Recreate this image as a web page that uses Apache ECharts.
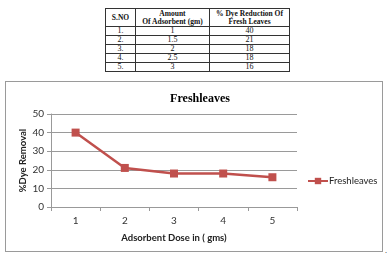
<!DOCTYPE html>
<html>
<head>
<meta charset="utf-8">
<script src="https://cdn.jsdelivr.net/npm/echarts@6/dist/echarts.min.js"></script>
<style>
  body { margin: 0; background: #fff; width: 391px; height: 261px; position: relative; overflow: hidden; }
  #tbl { position: absolute; left: 105px; top: 8px; border-collapse: collapse; font-family: "Liberation Serif", "DejaVu Serif", serif; font-size: 8px; color: #111; }
  #tbl td, #tbl th { border: 1px solid #333; padding: 0; text-align: center; line-height: 8px; height: 8px; }
  #tbl th { font-weight: bold; height: 17px; font-size: 7.5px; }
  #box { position: absolute; left: 5px; top: 81px; width: 376px; height: 169px; border: 1px solid #9a9a9a; }
  #chart { width: 376px; height: 169px; }
  #dot { position: absolute; left: 385px; top: 246px; font: 8px "Liberation Serif", serif; }
</style>
</head>
<body>
<table id="tbl"></table>
<div id="box"><div id="chart"></div></div>
<div id="dot">.</div>
<script>
// table columns
const serialNo = ['1.', '2.', '3.', '4.', '5.'];
const adsorbentGm = ['1', '1.5', '2', '2.5', '3'];
const dyeReduction = [40, 21, 18, 18, 16];
const headers = ['S.NO', 'Amount<br>Of Adsorbent (gm)', '% Dye Reduction Of<br>Fresh Leaves'];
const colWidths = [29, 73, 79];

// chart data
const doseLabels = ['1', '2', '3', '4', '5'];
const removal = [40, 21, 18, 18, 16];

let html = '<tr>' + headers.map((h, i) => '<th style="width:' + colWidths[i] + 'px">' + h + '</th>').join('') + '</tr>';
serialNo.forEach((s, i) => {
  html += '<tr><td>' + s + '</td><td>' + adsorbentGm[i] + '</td><td>' + dyeReduction[i] + '</td></tr>';
});
document.getElementById('tbl').innerHTML = html;

const red = '#c0504d';
const sans = 'Lato';
const myChart = echarts.init(document.getElementById('chart'));
const option = {
  animation: false,
  title: {
    text: 'Freshleaves',
    left: 189,
    top: 6,
    textAlign: 'center',
    textStyle: { fontFamily: 'Liberation Serif', fontWeight: 'bold', fontSize: 12, color: '#000' },
  },
  legend: {
    data: ['Freshleaves'],
    left: 296,
    top: 89,
    itemWidth: 20,
    itemHeight: 8,
    itemGap: 0,
    textStyle: { fontFamily: sans, fontSize: 9.5, color: '#222', padding: [0, 0, 0, -4] },
  },
  grid: { left: 45, right: 85, top: 32, bottom: 44 },
  xAxis: {
    type: 'category',
    data: doseLabels,
    boundaryGap: true,
    name: 'Adsorbent Dose in ( gms)',
    nameLocation: 'middle',
    nameGap: 26,
    nameTextStyle: { fontFamily: sans, fontWeight: 'bold', fontSize: 9.5, color: '#222' },
    axisLine: { lineStyle: { color: '#999' } },
    axisTick: { show: true, length: 4, lineStyle: { color: '#999' } },
    axisLabel: { fontFamily: sans, fontSize: 10, color: '#333', margin: 9 },
  },
  yAxis: {
    type: 'value',
    min: 0,
    max: 50,
    interval: 10,
    name: '%Dye Removal',
    nameLocation: 'middle',
    nameGap: 23,
    nameMoveOverlap: false,
    nameTextStyle: { fontFamily: sans, fontWeight: 'bold', fontSize: 9.5, color: '#222' },
    axisLine: { show: true, lineStyle: { color: '#999' } },
    axisTick: { show: true, length: 4, lineStyle: { color: '#999' } },
    axisLabel: { fontFamily: sans, fontSize: 10, color: '#333', margin: 7 },
    splitLine: { lineStyle: { color: '#9a9a9a', width: 1 } },
  },
  series: [{
    name: 'Freshleaves',
    type: 'line',
    data: removal,
    symbol: 'rect',
    symbolSize: 8,
    lineStyle: { color: red, width: 2.5 },
    itemStyle: { color: red },
  }],
};
myChart.setOption(option);
</script>
</body>
</html>
